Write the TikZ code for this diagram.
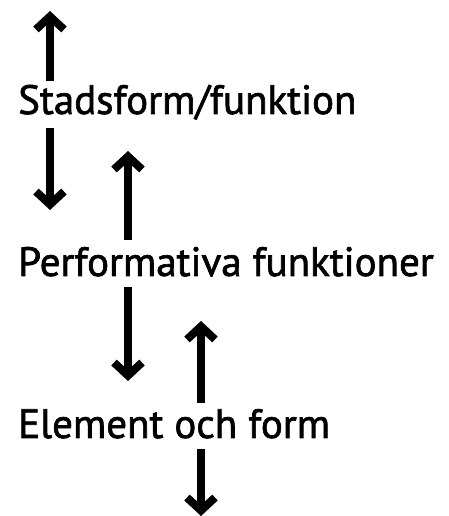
\documentclass[tikz,border=0pt]{standalone}
\usepackage{fontspec}
\newfontfamily\levelfont{PT Sans}[FakeBold=1.6]
\usetikzlibrary{arrows.meta}
\tikzset{
  level/.style={font=\fontsize{41}{46}\levelfont, anchor=base west, inner sep=0pt},
  flow/.style={line width=8pt, draw=black, line cap=butt,
    -{Straight Barb[length=13pt, width=28pt, line cap=butt, line join=miter]}},
}

\begin{document}
\begin{tikzpicture}[x=1pt, y=1pt]
\useasboundingbox (0,0) rectangle (449,516);
\node[level] (stad) at (18,402) {Stadsform/funktion};
\node[level] (perf) at (18,240) {Performativa funktioner};
\node[level] (elem) at (18,78) {Element och form};
\coordinate (stadup) at (50,505);
\coordinate (staddown) at (50,306);
\coordinate (perfup) at (128,365);
\coordinate (perfdown) at (128,135);
\coordinate (elemup) at (201,195);
\coordinate (elemdown) at (201,0);
\draw[flow] (stadup |- 0,435) -- (stadup);
\draw[flow] (staddown |- 0,388) -- (staddown);
\draw[flow] (perfup |- 0,276) -- (perfup);
\draw[flow] (perfdown |- 0,229) -- (perfdown);
\draw[flow] (elemup |- 0,113) -- (elemup);
\draw[flow] (elemdown |- 0,67) -- (elemdown);
\end{tikzpicture}
\end{document}
